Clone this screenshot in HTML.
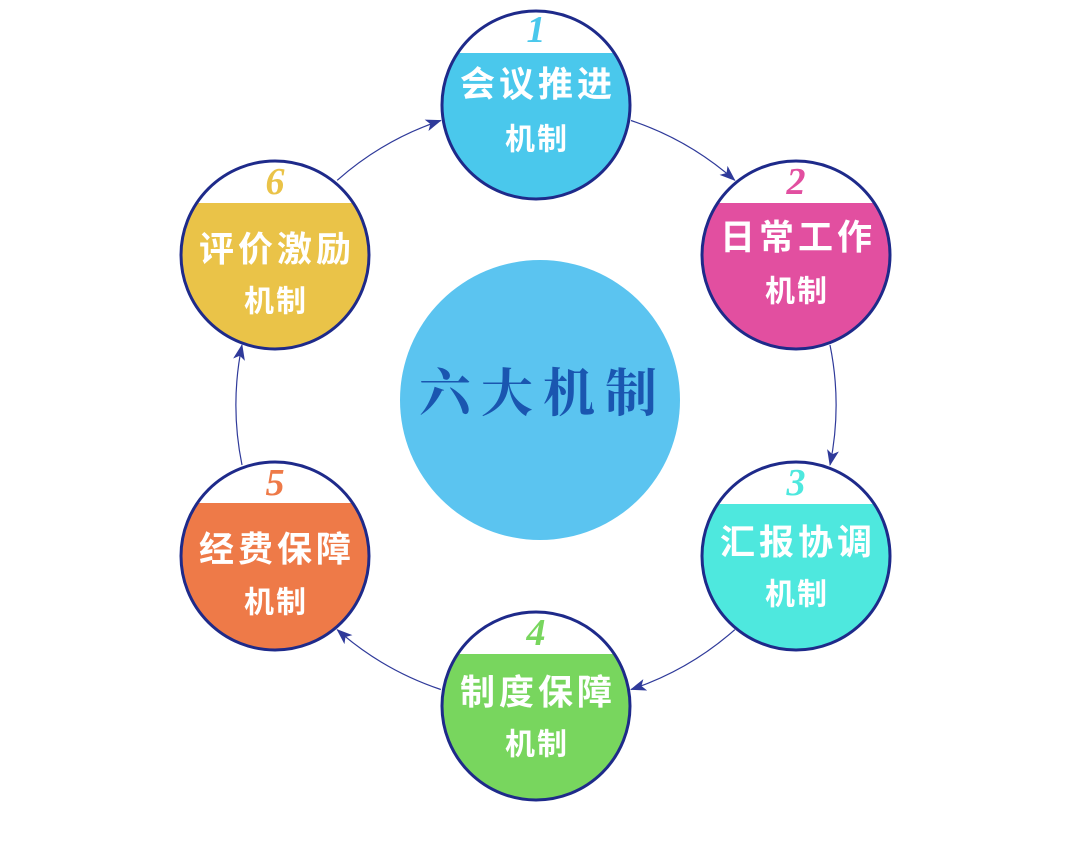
<!DOCTYPE html>
<html><head><meta charset="utf-8"><style>
html,body{margin:0;padding:0;background:#fff;}
svg{display:block;}
.t{font-family:"Liberation Sans","Noto Sans CJK SC",sans-serif;font-weight:bold;fill:#fff;text-anchor:middle;dominant-baseline:central;letter-spacing:4px;}
.m{font-family:"Liberation Sans","Noto Sans CJK SC",sans-serif;font-weight:bold;fill:#fff;text-anchor:middle;dominant-baseline:central;letter-spacing:2px;}
.n{font-family:"Liberation Serif",serif;font-style:italic;font-weight:bold;text-anchor:middle;dominant-baseline:central;font-size:38px;}
</style></head><body>
<svg width="1075" height="846" viewBox="0 0 1075 846" xmlns="http://www.w3.org/2000/svg">
<defs>
<marker id="a" markerWidth="16" markerHeight="12" refX="15" refY="6" orient="auto" markerUnits="userSpaceOnUse">
<path d="M0,0 L16,6 L0,12 L4,6 Z" fill="#2f3a9a"/>
</marker>
<clipPath id="c1"><circle cx="536" cy="105" r="94"/></clipPath>
<clipPath id="c2"><circle cx="796" cy="255" r="94"/></clipPath>
<clipPath id="c3"><circle cx="796" cy="556" r="94"/></clipPath>
<clipPath id="c4"><circle cx="536" cy="706" r="94"/></clipPath>
<clipPath id="c5"><circle cx="275" cy="556" r="94"/></clipPath>
<clipPath id="c6"><circle cx="275" cy="255" r="94"/></clipPath>
</defs>
<g fill="none" stroke="#2f3a9a" stroke-width="1.2" marker-end="url(#a)">
<path d="M631,120.5 A300,300 0 0 1 734.8,180.3"/>
<path d="M830,345 A300,300 0 0 1 830,465"/>
<path d="M734.8,629.7 A300,300 0 0 1 631,689.5"/>
<path d="M440.8,689.5 A300,300 0 0 1 337.2,629.7"/>
<path d="M242,465 A300,300 0 0 1 242,345"/>
<path d="M337.2,180.3 A300,300 0 0 1 440.8,120.5"/>
</g>
<circle cx="540" cy="400" r="140" fill="#5bc4f0"/>
<text x="543" y="395" style="font-family:'Liberation Serif','Noto Serif CJK SC',serif;font-weight:bold;font-size:52px;fill:#1a56b0;text-anchor:middle;dominant-baseline:central;letter-spacing:10px">六大机制</text>

<g clip-path="url(#c1)"><rect x="430" y="53" width="220" height="160" fill="#4ac8ec"/></g>
<circle cx="536" cy="105" r="94" fill="none" stroke="#1e2a8a" stroke-width="3"/>
<text class="n" x="536" y="30" fill="#4ac8ec">1</text>
<text class="t" x="538" y="85" font-size="35">会议推进</text>
<text class="m" x="537" y="140" font-size="30">机制</text>

<g clip-path="url(#c2)"><rect x="690" y="203" width="220" height="160" fill="#e24fa0"/></g>
<circle cx="796" cy="255" r="94" fill="none" stroke="#1e2a8a" stroke-width="3"/>
<text class="n" x="796" y="182" fill="#e24fa0">2</text>
<text class="t" x="798" y="238" font-size="35">日常工作</text>
<text class="m" x="797" y="292" font-size="30">机制</text>

<g clip-path="url(#c3)"><rect x="690" y="504" width="220" height="160" fill="#4ee8de"/></g>
<circle cx="796" cy="556" r="94" fill="none" stroke="#1e2a8a" stroke-width="3"/>
<text class="n" x="796" y="483" fill="#4ee8de">3</text>
<text class="t" x="798" y="543" font-size="35">汇报协调</text>
<text class="m" x="797" y="595" font-size="30">机制</text>

<g clip-path="url(#c4)"><rect x="430" y="654" width="220" height="160" fill="#78d65e"/></g>
<circle cx="536" cy="706" r="94" fill="none" stroke="#1e2a8a" stroke-width="3"/>
<text class="n" x="536" y="633" fill="#78d65e">4</text>
<text class="t" x="538" y="693" font-size="35">制度保障</text>
<text class="m" x="537" y="745" font-size="30">机制</text>

<g clip-path="url(#c5)"><rect x="170" y="503" width="220" height="160" fill="#ee7a48"/></g>
<circle cx="275" cy="556" r="94" fill="none" stroke="#1e2a8a" stroke-width="3"/>
<text class="n" x="275" y="483" fill="#ee7a48">5</text>
<text class="t" x="277" y="550" font-size="35">经费保障</text>
<text class="m" x="276" y="603" font-size="30">机制</text>

<g clip-path="url(#c6)"><rect x="170" y="203" width="220" height="160" fill="#eac348"/></g>
<circle cx="275" cy="255" r="94" fill="none" stroke="#1e2a8a" stroke-width="3"/>
<text class="n" x="275" y="182" fill="#eac348">6</text>
<text class="t" x="277" y="250" font-size="35">评价激励</text>
<text class="m" x="276" y="302" font-size="30">机制</text>
</svg>
</body></html>
